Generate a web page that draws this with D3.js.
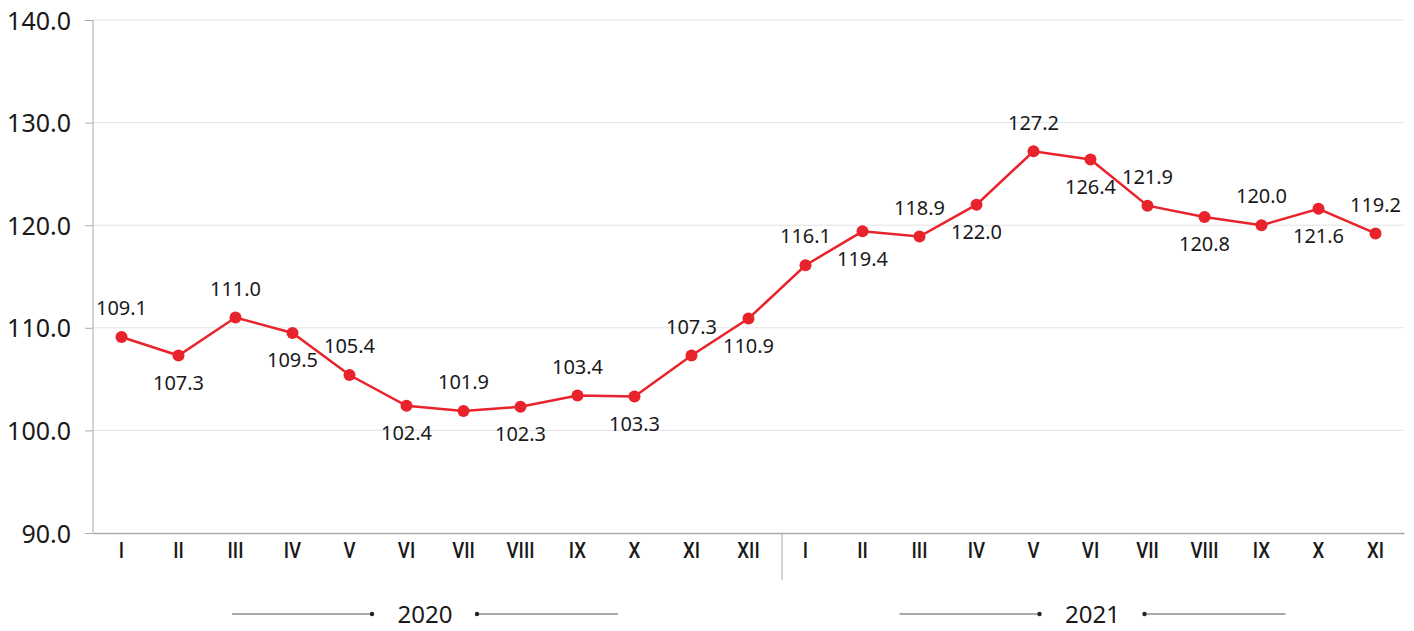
<!DOCTYPE html>
<html>
<head>
<meta charset="utf-8">
<script src="https://cdn.jsdelivr.net/npm/d3@7"></script>
<style>
  body { margin: 0; background: #fff; }
  text { font-family: 'Noto Sans', sans-serif; fill: #1a1a1a; }
  .x-axis text { font-family: Roboto, 'Liberation Sans', sans-serif; }
</style>
</head>
<body>
<script>
const months = ['I', 'II', 'III', 'IV', 'V', 'VI', 'VII', 'VIII', 'IX', 'X', 'XI', 'XII',
  'I', 'II', 'III', 'IV', 'V', 'VI', 'VII', 'VIII', 'IX', 'X', 'XI'];
const years = ['2020', '2021'];
const values = [109.1, 107.3, 111.0, 109.5, 105.4, 102.4, 101.9, 102.3, 103.4, 103.3, 107.3, 110.9,
  116.1, 119.4, 118.9, 122.0, 127.2, 126.4, 121.9, 120.8, 120.0, 121.6, 119.2];
const yTicks = [90, 100, 110, 120, 130, 140];

const width = 1414;
const height = 631;
const margin = {top: 20, right: 10, bottom: 98, left: 93};

const svg = d3.select('body').append('svg')
  .attr('width', width)
  .attr('height', height);

const keys = months.map((m, i) => i);
const x = d3.scaleBand()
  .domain(keys)
  .range([margin.left, width - margin.right]);

const y = d3.scaleLinear()
  .domain([90, 140])
  .range([height - margin.bottom, margin.top]);

// grid
svg.append('g')
  .selectAll('line')
  .data(yTicks.slice(1))
  .join('line')
  .attr('x1', margin.left)
  .attr('x2', width - margin.right)
  .attr('y1', (d) => y(d))
  .attr('y2', (d) => y(d))
  .attr('stroke', '#e3e3e3')
  .attr('stroke-width', 1);

// y axis
const yAxis = svg.append('g')
  .attr('transform', `translate(${margin.left},0)`)
  .call(d3.axisLeft(y).tickValues(yTicks).tickFormat(d3.format('.1f')).tickSize(8).tickPadding(14));
yAxis.selectAll('path, line').attr('stroke', '#aaa');
yAxis.select('.domain').attr('d', `M0,${y(90)}V${y(140)}`);
yAxis.selectAll('text')
  .style('font-size', '25px')
  .attr('dy', '0.36em')
  .attr('fill', '#1a1a1a');

// x axis
const xAxis = svg.append('g')
  .attr('class', 'x-axis')
  .attr('transform', `translate(0,${y(90)})`)
  .call(d3.axisBottom(x).tickFormat((i) => months[i]).tickSize(0).tickPadding(9));
xAxis.select('.domain').attr('stroke', '#aaa').attr('stroke-width', 1.5);
xAxis.selectAll('text')
  .style('font-size', '22px')
  .style('font-weight', '500')
  .attr('fill', '#1a1a1a')
  .attr('transform', 'scale(0.85,1)');

// separator between years
const sepX = x(12) + 5;
svg.append('line')
  .attr('x1', sepX)
  .attr('x2', sepX)
  .attr('y1', y(90))
  .attr('y2', y(90) + 47)
  .attr('stroke', '#aaa');

// year labels
const yearGroups = [keys.slice(0, 12), keys.slice(12)];
yearGroups.forEach((grp, gi) => {
  const left = x(grp[0]) + x.bandwidth() / 2;
  const right = x(grp[grp.length - 1]) + x.bandwidth() / 2;
  const cx = gi === 0 ? (left + right) / 2 - 10 : (left + right) / 2 + 2;
  const cy = 614;
  const g = svg.append('g');
  g.append('text')
    .attr('x', cx)
    .attr('y', cy)
    .attr('dy', '0.36em')
    .attr('text-anchor', 'middle')
    .style('font-size', '24px')
    .text(years[gi]);
  [[cx - 193, cx - 53], [cx + 52, cx + 193]].forEach(([a, b], k) => {
    g.append('line')
      .attr('x1', a).attr('x2', b)
      .attr('y1', cy).attr('y2', cy)
      .attr('stroke', '#555')
      .attr('stroke-width', 1);
    g.append('circle')
      .attr('cx', k === 0 ? b : a)
      .attr('cy', cy)
      .attr('r', 2.2)
      .attr('fill', '#222');
  });
});

// line
const line = d3.line()
  .x((d, i) => x(i) + x.bandwidth() / 2)
  .y((d) => y(d));

svg.append('path')
  .datum(values)
  .attr('d', line)
  .attr('fill', 'none')
  .attr('stroke', '#e8232b')
  .attr('stroke-width', 2.5);

svg.append('g')
  .selectAll('circle')
  .data(values)
  .join('circle')
  .attr('cx', (d, i) => x(i) + x.bandwidth() / 2)
  .attr('cy', (d) => y(d))
  .attr('r', 6)
  .attr('fill', '#e8232b');

// data labels, alternating above / below
svg.append('g')
  .selectAll('text')
  .data(values)
  .join('text')
  .attr('x', (d, i) => x(i) + x.bandwidth() / 2)
  .attr('y', (d, i) => y(d) + (i % 2 === 0 ? -29 : 27))
  .attr('dy', '0.36em')
  .attr('text-anchor', 'middle')
  .style('font-size', '20px')
  .text((d) => d3.format('.1f')(d));
</script>
</body>
</html>
